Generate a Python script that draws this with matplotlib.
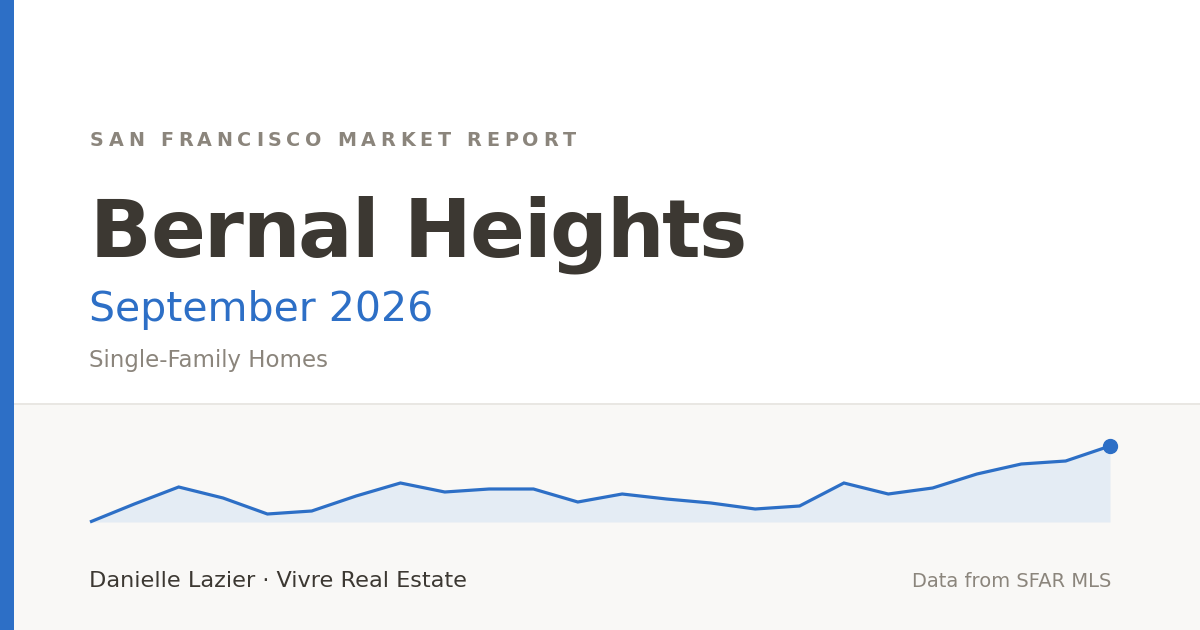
import matplotlib
matplotlib.use("Agg")
import matplotlib.pyplot as plt
from matplotlib.patches import Rectangle
from matplotlib.font_manager import FontProperties, findfont, get_font
import numpy as np

# 24 months of the sparkline (relative median price level)
months = ["Oct 24", "Nov 24", "Dec 24", "Jan 25", "Feb 25", "Mar 25", "Apr 25", "May 25",
          "Jun 25", "Jul 25", "Aug 25", "Sep 25", "Oct 25", "Nov 25", "Dec 25", "Jan 26",
          "Feb 26", "Mar 26", "Apr 26", "May 26", "Jun 26", "Jul 26", "Aug 26", "Sep 26"]
price_level = [0, 18, 35, 24, 8, 11, 26, 39, 30, 33, 33, 20,
               28, 23, 19, 13, 16, 39, 28, 34, 48, 58, 61, 76]

eyebrow = "SAN FRANCISCO MARKET REPORT"
title = "Bernal Heights"
period = "September 2026"
segment = "Single-Family Homes"
agent = "Danielle Lazier · Vivre Real Estate"
source = "Data from SFAR MLS"

W, H, DPI = 1200, 630, 100
BLUE = "#2d6fc6"
DARK = "#3c3832"
GRAY = "#8b857c"


def fy(y_px):
    return 1 - y_px / H


def fx(x_px):
    return x_px / W


def tracked_text(fig, x_px, y_px, s, prop, color, tracking):
    # matplotlib has no letter-spacing, so place glyphs one by one
    font = get_font(findfont(prop))
    font.set_size(prop.get_size_in_points(), DPI)
    x = float(x_px)
    for ch in s:
        fig.text(fx(x), fy(y_px), ch, fontproperties=prop, color=color,
                 va="baseline", ha="left")
        glyph = font.load_char(ord(ch))
        x += glyph.linearHoriAdvance / 65536 + tracking


fig = plt.figure(figsize=(W / DPI, H / DPI), dpi=DPI)
fig.patch.set_facecolor("white")

# footer band, separator and left accent bar
fig.patches.append(Rectangle((0, 0), 1, fy(405), transform=fig.transFigure,
                             facecolor="#f9f8f6", edgecolor="none", zorder=-2))
fig.patches.append(Rectangle((0, fy(405)), 1, 2 / H, transform=fig.transFigure,
                             facecolor="#e9e7e3", edgecolor="none", zorder=-1))
fig.patches.append(Rectangle((0, 0), fx(14), 1, transform=fig.transFigure,
                             facecolor=BLUE, edgecolor="none", zorder=2))

tracked_text(fig, 90, 146, eyebrow,
             FontProperties(family="DejaVu Sans", weight="bold", size=13.8), GRAY, 4.7)
tracked_text(fig, 90, 257, title,
             FontProperties(family="DejaVu Sans", weight="bold", size=58.3), DARK, -1.6)

fig.text(fx(89), fy(321.5), period, family="DejaVu Sans", size=29.5,
         color=BLUE, va="baseline", ha="left")
fig.text(fx(89), fy(367.5), segment, family="DejaVu Sans", size=16.5,
         color=GRAY, va="baseline", ha="left")
fig.text(fx(89), fy(587), agent, family="DejaVu Sans", size=16.1,
         color=DARK, va="baseline", ha="left")
fig.text(fx(1111), fy(587), source, family="DejaVu Sans", size=14,
         color=GRAY, va="baseline", ha="right")

# sparkline
ax = fig.add_axes([fx(90), fy(522), 1020 / W, 76 / H], zorder=5)
ax.set_facecolor("none")
xs = np.arange(len(price_level))
vals = np.array(price_level)
ax.fill_between(xs, vals, vals.min(), color="#e4ecf4", linewidth=0, zorder=1)
ax.plot(xs, vals, color=BLUE, linewidth=2.3, solid_joinstyle="miter",
        solid_capstyle="butt", clip_on=False, zorder=2)
ax.plot(xs[-1], vals[-1], "o", color=BLUE, markersize=10, clip_on=False, zorder=3)
ax.set_xlim(xs[0], xs[-1])
ax.set_ylim(vals.min(), vals.max())
ax.axis("off")

fig.savefig("out.png", dpi=DPI)
